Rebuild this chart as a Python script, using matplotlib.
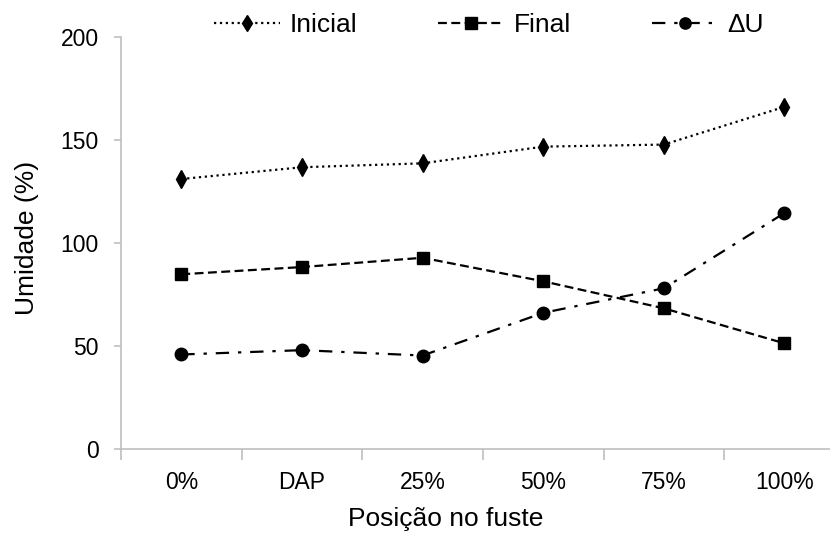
import matplotlib
matplotlib.use('Agg')
import matplotlib.pyplot as plt
import numpy as np

plt.rcParams['font.family'] = ['Liberation Sans', 'DejaVu Sans']

posicoes = ['0%', 'DAP', '25%', '50%', '75%', '100%']
inicial = [130.9, 136.6, 138.5, 146.6, 147.6, 165.9]
final = [84.7, 88.2, 92.7, 81.3, 68.2, 51.2]
delta_u = [45.8, 47.9, 45.3, 66.0, 77.9, 114.4]

cinza = '#bfbfbf'

fig = plt.figure(figsize=(8.3, 5.37), dpi=100)
# o eixo x continua um pouco além da borda direita
ax = fig.add_axes([0.1458, 0.164, 0.872, 0.768])

x = np.arange(len(posicoes))
ax.plot(x, inicial, color='black', linestyle=':', linewidth=1.6,
        marker='d', markersize=9, label='Inicial')
ax.plot(x, final, color='black', linestyle='--', linewidth=1.6,
        marker='s', markersize=9, label='Final', dashes=(4, 2))
ax.plot(x, delta_u, color='black', linestyle='-.', linewidth=1.6,
        marker='o', markersize=9, label='\u0394U', dashes=(6, 4, 1.5, 4))

ax.set_xlim(-0.5, len(posicoes) - 0.5)
ax.set_ylim(0, 200)
ax.set_yticks([0, 50, 100, 150, 200])
ax.set_xticks(x)
ax.set_xticklabels(posicoes)
ax.set_xticks(np.arange(-0.5, len(posicoes), 1.0), minor=True)

for lado in ['top', 'right']:
    ax.spines[lado].set_visible(False)
for lado in ['left', 'bottom']:
    ax.spines[lado].set_color(cinza)
    ax.spines[lado].set_linewidth(1.2)

ax.tick_params(axis='x', which='major', length=0, pad=16, labelsize=16.5)
ax.tick_params(axis='x', which='minor', length=8, color=cinza, width=1.2)
ax.tick_params(axis='y', length=5, color=cinza, width=1.2, pad=11, labelsize=16.5)

ax.set_xlabel('Posição no fuste', fontsize=19)
ax.set_ylabel('Umidade (%)', fontsize=19)
ax.xaxis.set_label_coords(0.449, -0.142)
ax.yaxis.set_label_coords(-0.113, 0.512)

fig.legend(loc='center', bbox_to_anchor=(0.589, 0.953), ncol=3,
           frameon=False, fontsize=19, handlelength=2.5, columnspacing=3.05,
           handletextpad=0.38, markerscale=0.9)

fig.savefig('out.png', dpi=100)
